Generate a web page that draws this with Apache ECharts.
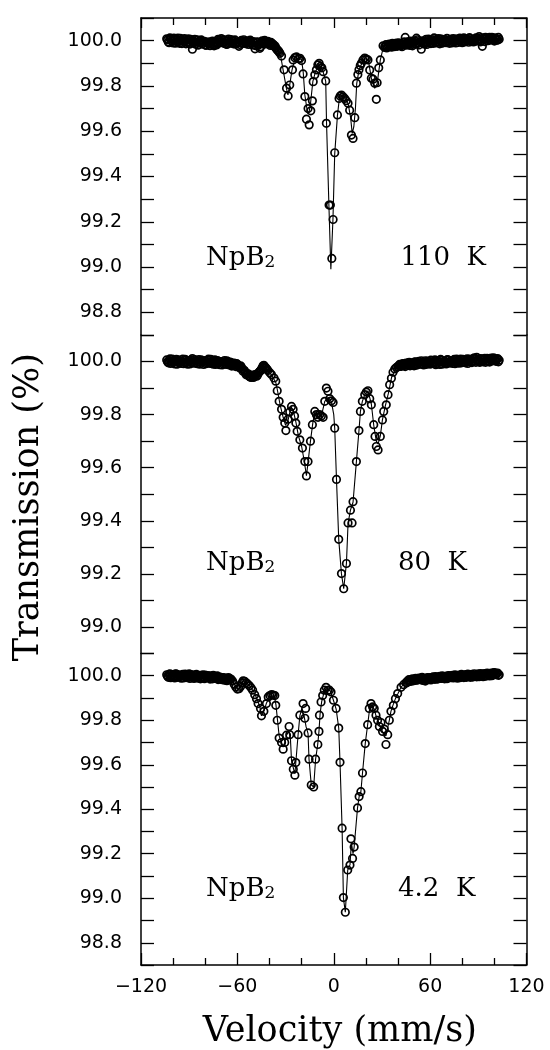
<!DOCTYPE html>
<html>
<head>
<meta charset="utf-8">
<script src="https://cdn.jsdelivr.net/npm/echarts@6/dist/echarts.min.js"></script>
<style>
  html, body { margin: 0; padding: 0; background: #fff; }
  #chart { width: 550px; height: 1050px; }
</style>
</head>
<body>
<div id="chart"></div>
<script>
// measured points [velocity mm/s, transmission %]
var spec110 = [
  [-104,100.008],[-103,99.994],[-102,100.012],[-101,100.001],[-100,99.990],[-99,100.007],[-98,99.996],
  [-97,100.011],[-96,99.988],[-95,100.004],[-94,99.997],[-93,100.009],[-92,99.986],[-91,100.002],
  [-90,99.993],[-89,100.006],[-88,99.962],[-87,99.998],[-86,99.984],[-85,100.004],[-84,99.991],
  [-83,100.000],[-82,99.985],[-81,99.996],[-80,99.982],[-79,99.993],[-78,99.987],[-77,99.978],
  [-76,99.992],[-75,99.983],[-74,99.995],[-73,99.981],[-72,100.006],[-71,99.991],[-70,100.009],
  [-69,99.994],[-68,100.003],[-67,99.985],[-66,99.999],[-65,99.988],[-64,100.005],[-63,99.990],
  [-62,99.998],[-61,99.984],[-60,99.994],[-59,99.975],[-58,99.997],[-57,99.987],[-56,100.004],
  [-55,99.991],[-54,99.999],[-53,99.983],[-52,100.002],[-51,99.988],[-50,99.996],[-49,99.964],
  [-48,99.992],[-47,99.980],[-46,99.966],[-45,99.994],[-44,99.988],[-43,100.001],[-42,99.990],
  [-41,99.997],[-40,99.985],[-39,99.992],[-38,99.980],[-37,99.974],[-36,99.968],[-35,99.958],
  [-33.5,99.944],[-32.5,99.932],[-30.9,99.871],[-29.4,99.790],[-28.4,99.756],[-27.4,99.804],
  [-25.7,99.871],[-25.3,99.915],[-24.2,99.925],[-23.2,99.928],[-22.0,99.920],[-21.0,99.922],
  [-20.1,99.912],[-19.1,99.853],[-18.0,99.753],[-17.0,99.653],[-16.0,99.700],[-15.3,99.628],
  [-14.3,99.690],[-13.3,99.734],[-12.8,99.819],[-11.8,99.849],[-10.8,99.871],[-9.9,99.893],
  [-9.1,99.900],[-8.3,99.886],[-7.4,99.880],[-6.6,99.863],[-5.0,99.822],[-4.6,99.635],
  [-2.9,99.274],[-2.1,99.274],[-1.2,99.038],[-0.4,99.210],[0.6,99.505],[2.3,99.672],
  [3.3,99.745],[4.0,99.755],[4.8,99.760],[5.8,99.752],[6.8,99.745],[7.8,99.735],
  [8.9,99.723],[9.9,99.693],[11.0,99.583],[12.0,99.568],[13.1,99.660],[14.1,99.812],
  [15.0,99.850],[15.7,99.871],[16.5,99.890],[17.2,99.900],[18.2,99.915],[19.3,99.923],
  [20.3,99.918],[21.3,99.915],[22.4,99.870],[23.4,99.834],[24.5,99.830],[25.5,99.812],
  [26.5,99.741],[27.0,99.814],[28.0,99.880],[29.0,99.915],[30.7,99.977],
  [31.7,99.970],[32.5,99.982],[33.5,99.972],[34.5,99.985],[35.5,99.977],[36.5,99.988],
  [37.5,99.979],[38.5,99.986],[39.5,99.975],[40.5,99.990],[41.5,99.981],[42.5,99.973],
  [43.5,99.991],[44.5,100.014],[45.5,99.984],[46.5,99.996],[47.5,99.979],[48.5,99.992],
  [49.5,99.984],[50.5,99.999],[51.5,100.011],[52.5,99.988],[53.5,99.996],[54.5,99.962],
  [55.5,99.993],[56.5,99.984],[57.5,100.006],[58.5,99.992],[59.5,100.001],[60.5,99.987],
  [61.5,99.997],[62.5,100.012],[63.5,99.990],[64.5,100.004],[65.5,99.993],[66.5,100.008],
  [67.5,99.989],[68.5,100.001],[69.5,99.994],[70.5,100.010],[71.5,99.996],[72.5,100.004],
  [73.5,99.990],[74.5,100.009],[75.5,99.998],[76.5,100.003],[77.5,99.992],[78.5,100.011],
  [79.5,99.997],[80.5,100.006],[81.5,99.994],[82.5,100.008],[83.5,100.000],[84.5,100.013],
  [85.5,99.996],[86.5,100.005],[87.5,99.999],[88.5,100.012],[89.5,100.002],[90.5,100.018],
  [91.5,99.995],[92.5,99.975],[93.5,100.006],[94.5,100.014],[95.5,100.001],[96.5,100.011],
  [97.5,100.003],[98.5,100.015],[99.5,100.005],[100.5,100.012],[101.5,100.002],[102.5,100.014],
  [103,100.006]
];
// second half of the folded channels, baseline only
var spec110b = [
  [-103.5,100.003],[-102.5,99.991],[-101.5,100.007],[-100.5,99.996],[-99.5,100.011],[-98.5,99.989],
  [-97.5,100.002],[-96.5,99.995],[-95.5,100.010],[-94.5,99.987],[-93.5,100.005],[-92.5,99.998],
  [-91.5,99.992],[-90.5,100.008],[-89.5,99.985],[-88.5,99.999],[-87.5,99.990],[-86.5,100.006],
  [-85.5,99.993],[-84.5,99.980],[-83.5,99.996],[-82.5,100.003],[-81.5,99.988],[-80.5,99.997],
  [-79.5,99.979],[-78.5,99.991],[-77.5,99.995],[-76.5,99.984],[-75.5,99.998],[-74.5,99.977],
  [-73.5,99.990],[-72.5,99.985],[-71.5,100.002],[-70.5,99.996],[-69.5,100.004],[-68.5,99.988],
  [-67.5,99.997],[-66.5,99.983],[-65.5,100.007],[-64.5,99.994],[-63.5,99.999],[-62.5,99.986],
  [-61.5,100.003],[-60.5,99.989],[-59.5,99.992],[-58.5,99.983],[-57.5,100.001],[-56.5,99.990],
  [-55.5,99.997],[-54.5,99.986],[-53.5,99.994],[-52.5,99.991],[-51.5,99.998],[-50.5,99.981],
  [-49.5,99.990],[-48.5,99.978],[-47.5,99.995],[-46.5,99.985],[-45.5,99.973],[-44.5,99.999],
  [-43.5,99.984],[-42.5,99.995],[-41.5,99.986],[-40.5,99.993],[-39.5,99.979],[-38.5,99.988],
  [-37.5,99.983],[-36.5,99.976],[-35.5,99.962],[-34.5,99.955],[-34,99.950],
  [32,99.976],[33,99.968],[34,99.980],[35,99.983],[36,99.971],[37,99.984],[38,99.974],
  [39,99.989],[40,99.980],[41,99.987],[42,99.978],[43,99.985],[44,99.995],[45,99.980],
  [46,99.990],[47,99.986],[48,99.998],[49,99.977],[50,99.993],[51,99.987],[52,100.004],
  [53,99.981],[54,99.994],[55,99.999],[56,99.988],[57,99.995],[58,99.983],[59,100.007],
  [60,99.991],[61,100.005],[62,99.988],[63,100.003],[64,99.996],[65,100.009],[66,99.986],
  [67,99.999],[68,99.993],[69,100.006],[70,99.991],[71,100.001],[72,99.988],[73,100.007],
  [74,99.995],[75,100.003],[76,99.990],[77,100.008],[78,99.999],[79,100.004],[80,99.991],
  [81,100.012],[82,99.997],[83,100.005],[84,99.993],[85,100.009],[86,100.002],[87,99.994],
  [88,100.007],[89,99.998],[90,100.010],[91,100.005],[92,99.999],[93,100.012],[94,99.996],
  [95,100.008],[96,100.000],[97,100.014],[98,100.004],[99,100.010],[100,99.998],[101,100.009],
  [102,100.003]
];
var fit110 = [
  [-104,100.0],[-40,99.99],[-35,99.96],[-33,99.93],[-31.5,99.87],[-29.5,99.79],[-28.5,99.76],
  [-27.5,99.80],[-26,99.87],[-24.5,99.91],[-22,99.925],[-20,99.915],[-19,99.86],[-18,99.76],
  [-16.5,99.69],[-15.5,99.68],[-14.5,99.72],[-13,99.82],[-11.5,99.86],[-9.5,99.895],[-8,99.885],
  [-6.5,99.86],[-5,99.82],[-4.5,99.64],[-3,99.27],[-1.8,98.99],[-0.5,99.21],[0.6,99.5],
  [2.3,99.67],[3.5,99.745],[5,99.76],[7,99.745],[9,99.72],[10.5,99.66],[11.5,99.59],
  [12.5,99.62],[13.5,99.70],[14.3,99.81],[15.7,99.87],[17.5,99.90],[19.5,99.92],[21.5,99.915],
  [23.5,99.83],[25.5,99.79],[27,99.81],[29,99.915],[31,99.975],[40,99.985],[103,100.005]
];

var spec80 = [
  [-104,100.006],[-103,99.995],[-102,100.010],[-101,99.999],[-100,100.004],[-99,99.991],[-98,100.008],
  [-97,99.997],[-96,100.003],[-95,99.993],[-94,100.009],[-93,99.998],[-92,100.005],[-91,99.990],
  [-90,100.002],[-89,99.996],[-88,100.011],[-87,99.994],[-86,100.003],[-85,99.992],[-84,100.007],
  [-83,99.997],[-82,100.001],[-81,99.989],[-80,100.004],[-79,99.995],[-78,100.009],[-77,99.993],
  [-76,100.000],[-75,99.990],[-74,100.006],[-73,99.996],[-72,100.002],[-71,99.988],[-70,99.998],
  [-69,99.992],[-68,100.004],[-67,99.989],[-66,99.999],[-65,99.987],[-64,99.996],[-63,99.985],
  [-62,99.994],[-61,99.981],[-60,99.990],[-59,99.980],[-58,99.984],[-57,99.972],[-56,99.968],
  [-55,99.958],[-54,99.953],[-53,99.947],[-52,99.942],[-51,99.949],[-50,99.940],[-49,99.950],
  [-48,99.945],[-47,99.956],[-46,99.963],[-45,99.972],[-44,99.984],[-43,99.980],[-42,99.975],
  [-41,99.966],[-39.8,99.958],[-38.8,99.951],[-37.2,99.938],[-36.1,99.926],[-35.2,99.890],
  [-34.0,99.850],[-32.5,99.820],[-31.5,99.790],[-30.5,99.768],[-29.8,99.740],[-28.4,99.783],
  [-27.4,99.810],[-26.3,99.831],[-25.3,99.820],[-24.4,99.795],[-23.6,99.768],[-22.8,99.737],
  [-21.1,99.705],[-19.5,99.674],[-18.0,99.623],[-17.0,99.569],[-16.0,99.623],[-14.5,99.700],
  [-13.3,99.762],[-11.8,99.812],[-10.8,99.800],[-9.8,99.790],[-8.8,99.800],[-7.7,99.795],
  [-6.6,99.790],[-5.6,99.850],[-4.6,99.900],[-3.6,99.888],[-2.5,99.860],[-1.4,99.852],
  [-0.4,99.846],[0.6,99.749],[1.7,99.556],[3.1,99.330],[4.8,99.201],[6.2,99.144],
  [7.9,99.239],[8.9,99.392],[10.4,99.440],[11.4,99.392],[12.0,99.472],[14.1,99.623],
  [15.7,99.740],[16.6,99.812],[17.8,99.850],[19.3,99.875],[20.3,99.885],[21.3,99.890],
  [22.4,99.860],[23.4,99.837],[24.9,99.762],[25.7,99.718],[26.5,99.680],[27.6,99.667],
  [29.0,99.718],[30.3,99.780],[31.1,99.812],[32.7,99.837],[33.8,99.875],[34.8,99.913],
  [35.9,99.937],[36.9,99.960],[38.0,99.972],[39.0,99.978],
  [40,99.980],[41,99.989],[42,99.982],[43,99.992],[44,99.985],[45,99.994],[46,99.986],
  [47,99.997],[48,99.988],[49,99.995],[50,99.984],[51,99.998],[52,99.989],[53,100.001],
  [54,99.991],[55,99.998],[56,99.987],[57,100.003],[58,99.993],[59,100.000],[60,99.990],
  [61,100.004],[62,99.995],[63,100.006],[64,99.992],[65,100.001],[66,99.989],[67,100.005],
  [68,99.996],[69,100.002],[70,99.991],[71,100.007],[72,99.997],[73,100.003],[74,99.993],
  [75,100.008],[76,99.998],[77,100.004],[78,99.994],[79,100.009],[80,99.999],[81,100.005],
  [82,99.995],[83,100.010],[84,100.000],[85,100.006],[86,99.996],[87,100.011],[88,100.002],
  [89,100.016],[90,100.004],[91,99.997],[92,100.009],[93,99.999],[94,100.012],[95,100.003],
  [96,100.009],[97,99.998],[98,100.013],[99,100.004],[100,100.010],[101,100.001],[102,100.011],
  [103,100.005]
];
var spec80b = [
  [-103.5,99.999],[-102.5,100.004],[-101.5,99.993],[-100.5,100.009],[-99.5,99.997],[-98.5,100.002],
  [-97.5,99.990],[-96.5,100.006],[-95.5,99.998],[-94.5,100.001],[-93.5,99.992],[-92.5,100.008],
  [-91.5,99.996],[-90.5,100.003],[-89.5,99.991],[-88.5,100.005],[-87.5,99.999],[-86.5,100.007],
  [-85.5,99.995],[-84.5,100.001],[-83.5,99.990],[-82.5,100.006],[-81.5,99.997],[-80.5,100.002],
  [-79.5,99.992],[-78.5,100.005],[-77.5,99.998],[-76.5,100.008],[-75.5,99.994],[-74.5,100.001],
  [-73.5,99.989],[-72.5,100.004],[-71.5,99.995],[-70.5,100.000],[-69.5,99.987],[-68.5,99.999],
  [-67.5,99.993],[-66.5,100.003],[-65.5,99.991],[-64.5,99.998],[-63.5,99.983],[-62.5,99.990],
  [-61.5,99.986],[-60.5,99.992],[-59.5,99.985],[-58.5,99.976],[-57.5,99.979],[-56.5,99.963],
  [-55.5,99.965],[-54.5,99.950],[-53.5,99.955],[-52.5,99.944],[-51.5,99.940],[-50.5,99.946],
  [-49.5,99.943],[-48.5,99.952],[-47.5,99.948],[-46.5,99.960],[-45.5,99.966],[-44.5,99.977],
  [-43.5,99.986],[-42.5,99.977],[-41.5,99.970],
  [40.5,99.985],[41.5,99.982],[42.5,99.990],[43.5,99.986],[44.5,99.981],[45.5,99.990],
  [46.5,99.995],[47.5,99.984],[48.5,99.993],[49.5,99.988],[50.5,99.999],[51.5,99.986],
  [52.5,99.995],[53.5,99.990],[54.5,100.003],[55.5,99.991],[56.5,99.996],[57.5,99.989],
  [58.5,100.002],[59.5,99.994],[60.5,100.005],[61.5,99.993],[62.5,99.998],[63.5,99.988],
  [64.5,100.004],[65.5,99.996],[66.5,100.008],[67.5,99.990],[68.5,100.001],[69.5,99.995],
  [70.5,100.006],[71.5,99.994],[72.5,100.001],[73.5,99.997],[74.5,100.004],[75.5,99.992],
  [76.5,100.009],[77.5,99.996],[78.5,100.002],[79.5,99.995],[80.5,100.008],[81.5,99.998],
  [82.5,100.004],[83.5,99.993],[84.5,100.009],[85.5,99.999],[86.5,100.003],[87.5,100.014],
  [88.5,99.997],[89.5,100.008],[90.5,99.999],[91.5,100.011],[92.5,100.003],[93.5,100.007],
  [94.5,99.997],[95.5,100.012],[96.5,100.001],[97.5,100.008],[98.5,100.002],[99.5,100.014],
  [100.5,100.004],[101.5,100.009],[102.5,99.999]
];
var fit80 = [
  [-104,100.0],[-60,99.99],[-52,99.95],[-48,99.95],[-44,99.982],[-41,99.965],[-38.8,99.95],
  [-36,99.92],[-35,99.89],[-33.5,99.84],[-31.5,99.79],[-30,99.76],[-28.4,99.78],[-26.5,99.83],
  [-25,99.81],[-23.5,99.77],[-22,99.72],[-20,99.68],[-18.5,99.63],[-17,99.57],[-16,99.62],
  [-14.5,99.70],[-13,99.77],[-11.8,99.81],[-10.5,99.80],[-9,99.79],[-7.5,99.80],[-5.6,99.85],
  [-3.5,99.865],[-1.5,99.85],[0,99.80],[0.6,99.749],[1.7,99.556],[3.1,99.33],[4.8,99.2],
  [6.2,99.144],[7.9,99.24],[8.9,99.39],[10.4,99.44],[12,99.47],[14.1,99.623],[15.7,99.74],
  [16.6,99.812],[17.8,99.85],[19.3,99.875],[21.3,99.89],[23.4,99.84],[24.9,99.76],[26.5,99.70],
  [27.6,99.69],[29,99.72],[30.3,99.78],[32,99.83],[34,99.88],[36,99.94],[39,99.98],[103,100.0]
];

var spec42 = [
  [-104,100.004],[-103,99.993],[-102,100.009],[-101,99.998],[-100,100.005],[-99,99.990],[-98,100.007],
  [-97,99.996],[-96,100.002],[-95,99.989],[-94,100.006],[-93,99.997],[-92,100.003],[-91,99.991],
  [-90,100.008],[-89,99.995],[-88,100.001],[-87,99.988],[-86,100.004],[-85,99.994],[-84,100.000],
  [-83,99.986],[-82,99.997],[-81,99.990],[-80,100.003],[-79,99.992],[-78,99.998],[-77,99.985],
  [-76,99.995],[-75,100.002],[-74,99.988],[-73,99.996],[-72,99.983],[-71,99.994],[-70,99.986],
  [-69,99.992],[-68,99.980],[-67,99.990],[-66,99.983],[-65,99.987],[-64,99.985],[-63,99.976],
  [-62,99.962],[-61,99.950],[-60,99.940],[-59,99.942],[-58,99.952],[-57,99.968],[-56.4,99.977],
  [-55.5,99.975],[-54.5,99.968],[-53.5,99.962],[-52.5,99.955],[-51.5,99.946],[-50.5,99.935],
  [-49.2,99.915],[-48.1,99.897],[-47.1,99.875],[-45.6,99.853],[-45.0,99.820],[-43.5,99.840],
  [-41.9,99.875],[-40.8,99.905],[-39.8,99.911],[-38.7,99.915],[-37.7,99.913],[-36.7,99.911],
  [-36.1,99.867],[-35.2,99.800],[-34.0,99.720],[-32.5,99.700],[-31.5,99.670],[-30.5,99.700],
  [-29.4,99.733],[-27.8,99.772],[-27.4,99.735],[-26.3,99.618],[-25.2,99.580],[-24.2,99.553],
  [-23.6,99.610],[-22.2,99.735],[-21.1,99.823],[-19.1,99.875],[-18.0,99.809],[-17.5,99.853],
  [-16.0,99.743],[-15.4,99.625],[-14.0,99.509],[-12.5,99.500],[-11.3,99.625],[-9.9,99.691],
  [-9.2,99.750],[-8.9,99.823],[-7.9,99.882],[-6.9,99.911],[-5.9,99.935],[-4.8,99.948],
  [-3.8,99.934],[-2.7,99.935],[-1.7,99.927],[-0.2,99.890],[1.5,99.853],[3.1,99.765],
  [3.9,99.611],[5.2,99.315],[6.0,99.003],[7.2,98.937],[8.7,99.127],[10.1,99.149],
  [10.7,99.267],[11.7,99.179],[12.7,99.230],[14.8,99.406],[15.8,99.457],[16.9,99.479],
  [17.9,99.563],[19.6,99.695],[21.1,99.780],[22.1,99.853],[23.2,99.875],[24.2,99.860],
  [25.2,99.853],[26.3,99.823],[27.3,99.800],[28.4,99.772],[29.4,99.790],[30.4,99.750],
  [31.5,99.760],[32.5,99.691],[33.6,99.735],[34.6,99.800],[35.6,99.840],[37.1,99.867],
  [38.4,99.897],[39.8,99.920],[41.9,99.948],[43.5,99.960],
  [45,99.970],[46,99.976],[47,99.983],[48,99.975],[49,99.986],[50,99.979],[51,99.988],
  [52,99.981],[53,99.990],[54,99.982],[55,99.993],[56,99.985],[57,99.976],[58,99.990],
  [59,99.983],[60,99.992],[61,99.986],[62,99.995],[63,99.984],[64,99.993],[65,99.987],
  [66,99.997],[67,99.988],[68,99.995],[69,99.986],[70,99.998],[71,99.990],[72,99.999],
  [73,99.991],[74,100.002],[75,99.993],[76,100.000],[77,99.989],[78,100.003],[79,99.994],
  [80,100.001],[81,99.992],[82,100.005],[83,99.996],[84,100.003],[85,99.993],[86,100.006],
  [87,99.998],[88,100.004],[89,99.995],[90,100.008],[91,99.999],[92,100.006],[93,99.996],
  [94,100.010],[95,100.001],[96,100.008],[97,99.999],[98,100.012],[99,100.004],[100,100.014],
  [101,100.005],[102,100.012],[103,100.004]
];
var spec42b = [
  [-103.5,99.998],[-102.5,100.006],[-101.5,99.991],[-100.5,100.002],[-99.5,99.996],[-98.5,100.009],
  [-97.5,99.993],[-96.5,100.004],[-95.5,99.997],[-94.5,100.001],[-93.5,99.990],[-92.5,100.007],
  [-91.5,99.996],[-90.5,100.002],[-89.5,99.988],[-88.5,100.005],[-87.5,99.997],[-86.5,99.992],
  [-85.5,100.006],[-84.5,99.989],[-83.5,100.002],[-82.5,99.993],[-81.5,100.004],[-80.5,99.987],
  [-79.5,99.998],[-78.5,100.001],[-77.5,99.991],[-76.5,100.000],[-75.5,99.986],[-74.5,99.995],
  [-73.5,99.990],[-72.5,99.999],[-71.5,99.985],[-70.5,99.993],[-69.5,99.982],[-68.5,99.991],
  [-67.5,99.985],[-66.5,99.978],[-65.5,99.992],[-64.5,99.982],
  [45.5,99.968],[46.5,99.980],[47.5,99.976],[48.5,99.983],[49.5,99.977],[50.5,99.985],
  [51.5,99.980],[52.5,99.987],[53.5,99.984],[54.5,99.990],[55.5,99.979],[56.5,99.988],
  [57.5,99.983],[58.5,99.992],[59.5,99.986],[60.5,99.981],[61.5,99.993],[62.5,99.987],
  [63.5,99.996],[64.5,99.985],[65.5,99.994],[66.5,99.989],[67.5,99.999],[68.5,99.990],
  [69.5,99.996],[70.5,99.987],[71.5,100.001],[72.5,99.993],[73.5,99.998],[74.5,99.990],
  [75.5,100.004],[76.5,99.994],[77.5,100.000],[78.5,99.991],[79.5,100.006],[80.5,99.996],
  [81.5,100.002],[82.5,99.993],[83.5,100.007],[84.5,99.998],[85.5,100.004],[86.5,99.994],
  [87.5,100.009],[88.5,99.999],[89.5,100.005],[90.5,99.996],[91.5,100.010],[92.5,100.001],
  [93.5,100.007],[94.5,99.998],[95.5,100.012],[96.5,100.003],[97.5,100.009],[98.5,100.000],
  [99.5,100.013],[100.5,100.006],[101.5,100.011],[102.5,100.002]
];
var fit42 = [
  [-104,100.0],[-64,99.99],[-60,99.94],[-58,99.95],[-56.4,99.977],[-53,99.96],[-50,99.93],
  [-48,99.90],[-46,99.86],[-45,99.82],[-43.5,99.84],[-42,99.875],[-40,99.905],[-37,99.91],
  [-36,99.87],[-35,99.80],[-34,99.73],[-32.5,99.70],[-31.5,99.68],[-30.5,99.70],[-29.4,99.733],
  [-28,99.75],[-27,99.72],[-26.3,99.62],[-25,99.58],[-24.2,99.56],[-23.5,99.62],[-22.2,99.735],
  [-21.1,99.82],[-20,99.85],[-18.5,99.82],[-17.2,99.77],[-16,99.74],[-15.4,99.625],[-14,99.51],
  [-12.5,99.50],[-11.3,99.625],[-10,99.69],[-9.2,99.75],[-8.5,99.83],[-7.5,99.885],[-6,99.925],
  [-4,99.94],[-2,99.93],[-0.2,99.89],[1.5,99.85],[3.1,99.765],[3.9,99.611],[5.2,99.315],
  [6,99.003],[7.2,98.937],[8.7,99.127],[10.1,99.15],[11,99.25],[12,99.20],[12.7,99.23],
  [14.8,99.406],[15.8,99.457],[16.9,99.48],[17.9,99.563],[19.6,99.695],[21.1,99.78],[22.5,99.86],
  [23.5,99.87],[25.2,99.85],[26.3,99.82],[27.5,99.80],[29,99.77],[31,99.74],[32.5,99.73],
  [33.6,99.735],[34.6,99.80],[35.6,99.84],[37,99.87],[38.4,99.897],[40,99.92],[42,99.95],
  [45,99.97],[51,99.985],[103,100.0]
];

var spectra = [spec110.concat(spec110b), spec80.concat(spec80b), spec42.concat(spec42b)];
var fits = [fit110, fit80, fit42];
var sampleName = 'NpB{s|2}';
var temps = ['110  K', '80  K', '4.2  K'];
var yMins = [98.7, 98.9, 98.7];
var yMax = 100.1;

// label anchors in data units
var nameAt = [[-79.5, 99.04], [-79.5, 99.24], [-79.5, 99.04]];
var tempAt = [[41.5, 99.04], [40, 99.24], [40, 99.04]];

var serif = 'DejaVu Serif';
var sans = 'DejaVu Sans';

var myChart = echarts.init(document.getElementById('chart'));

var gridBoxes = [
  {left: 141, right: 23.5, top: 18, height: 317},
  {left: 141, right: 23.5, top: 335, height: 318.5},
  {left: 141, right: 23.5, top: 653.5, height: 318.5}
];

function yLabel(v) {
  var k = Math.round(v * 10);
  return k % 2 === 0 ? (k / 10).toFixed(1) : '';
}

var xAxes = [];
var yAxes = [];
var series = [];

for (var i = 0; i < 3; i++) {
  xAxes.push({
    gridIndex: i,
    type: 'value',
    min: -120, max: 120, interval: 60,
    show: i !== 1,
    position: i === 0 ? 'top' : 'bottom',
    axisLine: {show: true, onZero: false, lineStyle: {color: '#000', width: 1.5}},
    axisTick: {show: true, inside: true, length: i === 0 ? 10 : 12, lineStyle: {color: '#000', width: 1.3}},
    minorTick: {show: true, splitNumber: 3, length: 7, lineStyle: {color: '#000', width: 1.3}},
    axisLabel: {
      show: i === 2,
      margin: 13,
      color: '#000',
      fontFamily: sans,
      fontSize: 19,
      formatter: function (v) { return String(v).replace('-', '\u2212'); }
    },
    splitLine: {show: false},
    name: i === 2 ? 'Velocity (mm/s)' : '',
    nameLocation: 'middle',
    nameGap: 49,
    nameTextStyle: {color: '#000', fontFamily: serif, fontSize: 35, padding: [0, 0, 0, 12]}
  });
  ['left', 'right'].forEach(function (side) {
    yAxes.push({
      gridIndex: i,
      type: 'value',
      position: side,
      min: yMins[i], max: yMax, interval: 0.1,
      axisLine: {show: true, onZero: false, lineStyle: {color: '#000', width: 1.5}},
      axisTick: {show: true, inside: true, length: 13, lineStyle: {color: '#000', width: 1.3}},
      axisLabel: {
        show: side === 'left',
        margin: 19,
        color: '#000',
        fontFamily: sans,
        fontSize: 19,
        formatter: yLabel
      },
      splitLine: {show: false},
      name: (i === 1 && side === 'left') ? 'Transmission (%)' : '',
      nameLocation: 'middle',
      nameRotate: 90,
      nameGap: 95,
      nameTextStyle: {color: '#000', fontFamily: serif, fontSize: 35, padding: [0, 26, 0, 0]}
    });
  });

  series.push({
    type: 'scatter',
    xAxisIndex: i, yAxisIndex: 2 * i,
    data: spectra[i],
    symbol: 'circle',
    symbolSize: 7.5,
    itemStyle: {color: 'rgba(255,255,255,0)', borderColor: '#000', borderWidth: 1.7, opacity: 1},
    z: 2,
    silent: true
  });
  series.push({
    type: 'line',
    xAxisIndex: i, yAxisIndex: 2 * i,
    data: fits[i],
    showSymbol: false,
    lineStyle: {color: '#000', width: 1.1},
    z: 3,
    silent: true
  });
  series.push({
    type: 'scatter',
    xAxisIndex: i, yAxisIndex: 2 * i,
    symbolSize: 0,
    itemStyle: {opacity: 1},
    data: [
      {value: nameAt[i], label: {formatter: sampleName}},
      {value: tempAt[i], label: {formatter: temps[i]}}
    ],
    label: {
      show: true, position: 'inside', align: 'left', verticalAlign: 'middle',
      color: '#000', opacity: 1, fontFamily: serif, fontSize: 26,
      rich: {
        s: {color: '#000', fontFamily: serif, fontSize: 17, lineHeight: 17,
            verticalAlign: 'bottom', padding: [12, 0, 0, 0]}
      }
    },
    z: 4,
    silent: true
  });
}

var option = {
  backgroundColor: '#fff',
  animation: false,
  grid: gridBoxes,
  xAxis: xAxes,
  yAxis: yAxes,
  series: series
};
myChart.setOption(option);
</script>
</body>
</html>
